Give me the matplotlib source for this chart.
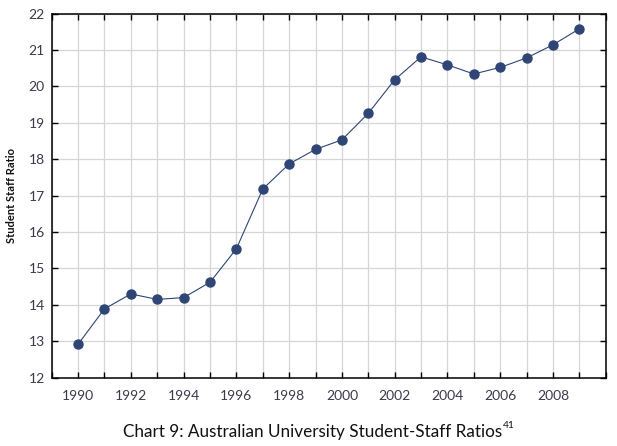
import matplotlib
matplotlib.use('Agg')
import matplotlib.pyplot as plt
from matplotlib.ticker import MultipleLocator

# Data
years = list(range(1990, 2010))
ratios = [12.92, 13.89, 14.30, 14.15, 14.20, 14.62, 15.54, 17.18, 17.87, 18.27,
          18.53, 19.26, 20.18, 20.81, 20.59, 20.34, 20.52, 20.78, 21.14, 21.58]
caption = 'Chart 9: Australian University Student-Staff Ratios'
footnote = '41'

plt.rcParams['font.family'] = ['Lato', 'DejaVu Sans']

fig = plt.figure(figsize=(6.17, 4.46), dpi=100)
ax = fig.add_axes([0.0838, 0.1531, 0.8979, 0.8166])

navy = '#2f4575'
ax.plot(years, ratios, color=navy, linewidth=0.8, marker='o', markersize=6.5,
        markerfacecolor=navy, markeredgecolor=navy, zorder=5)

ax.set_xlim(1989, 2010)
ax.set_ylim(12, 22)
ax.xaxis.set_major_locator(MultipleLocator(2))
ax.xaxis.set_minor_locator(MultipleLocator(1))
ax.yaxis.set_major_locator(MultipleLocator(1))
ax.set_xticks([y for y in range(1990, 2010, 2)])

ax.grid(True, which='both', axis='x', color='#d6d6d6', linewidth=0.9, zorder=0)
ax.grid(True, which='major', axis='y', color='#d6d6d6', linewidth=0.9, zorder=0)
ax.set_axisbelow(True)

ax.tick_params(which='both', direction='in', top=True, right=True, length=4,
               width=1, color='black', labelsize=10, labelcolor='#3a3a4a')
ax.tick_params(axis='x', pad=9)
ax.tick_params(axis='y', pad=5)
for s in ax.spines.values():
    s.set_linewidth(1.1)
    s.set_color('black')

ax.set_ylabel('Student Staff Ratio', fontsize=8, fontweight='bold', color='#111111')
ax.yaxis.set_label_coords(-0.062, 0.5)

# caption with superscript footnote
t = fig.text(0.507, 1 - 432 / 446, caption, ha='center', va='center',
             fontsize=12.3, color='#111111')
fig.canvas.draw()
bb = t.get_window_extent()
fig.text((bb.x1 + 1) / fig.bbox.width, (bb.y1 - 1) / fig.bbox.height, footnote,
         ha='left', va='center', fontsize=7.5, color='#111111')

fig.savefig('out.png', dpi=100)
